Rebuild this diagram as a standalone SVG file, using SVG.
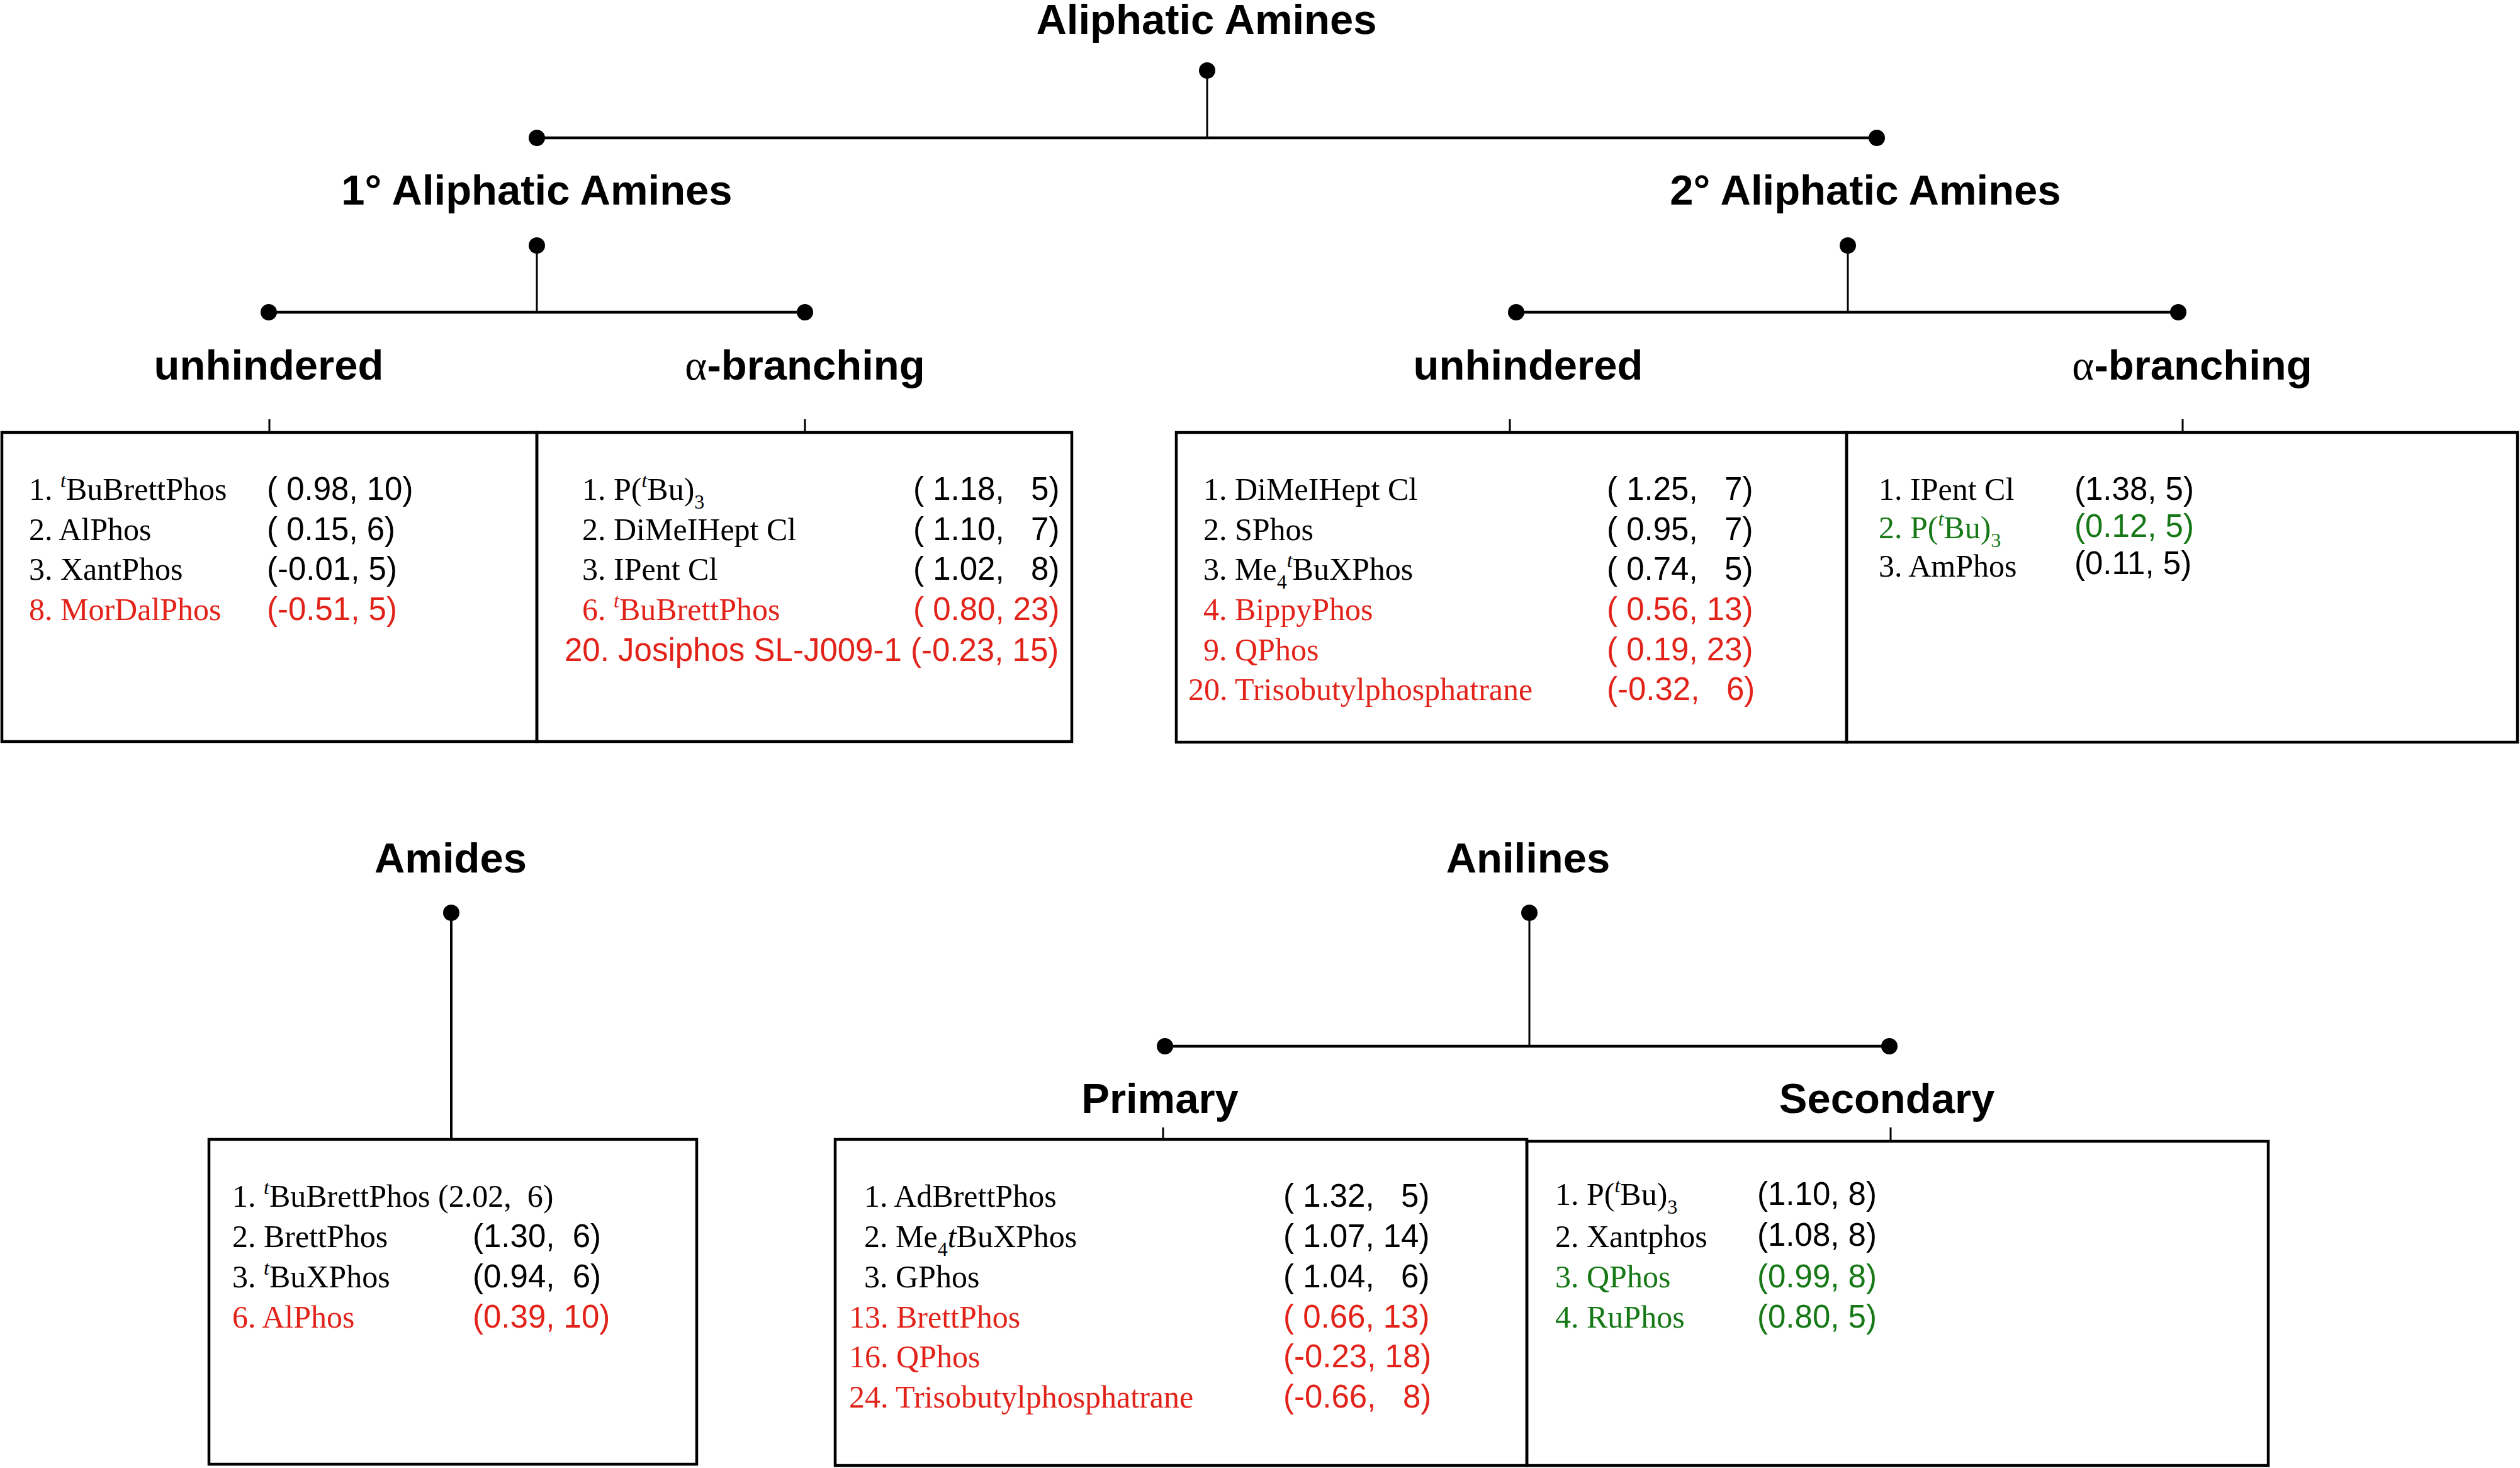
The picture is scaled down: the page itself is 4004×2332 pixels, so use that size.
<svg xmlns="http://www.w3.org/2000/svg" width="4004" height="2332" viewBox="0 0 4004 2332">
<style>
.h{font-family:"Liberation Sans",Arial,sans-serif;font-weight:bold;font-size:67px;text-anchor:middle;fill:#000}
.a{font-family:"Liberation Serif","Times New Roman",serif;font-weight:normal}
.s{font-family:"Liberation Serif","Times New Roman",serif;font-size:50px;fill:#000}
.n{font-family:"Liberation Sans",Arial,sans-serif;font-size:51px;fill:#000;white-space:pre}
.red{fill:#e2231a}
.grn{fill:#167816}
.box{fill:none;stroke:#000;stroke-width:4.5}
.hl{stroke:#000;stroke-width:4.5}
.vl{stroke:#000;stroke-width:3}
.dot{fill:#000}
</style>
<rect width="4004" height="2332" fill="#fff"/>

<g id="connectors">
  <line class="vl" x1="1918" y1="112" x2="1918" y2="219"/>
  <line class="hl" x1="853" y1="219" x2="2982" y2="219"/>
  <circle class="dot" cx="1918" cy="112" r="13"/>
  <circle class="dot" cx="853" cy="219" r="13"/>
  <circle class="dot" cx="2982" cy="219" r="13"/>

  <line class="vl" x1="853" y1="390" x2="853" y2="496"/>
  <line class="hl" x1="427" y1="496" x2="1279" y2="496"/>
  <circle class="dot" cx="853" cy="390" r="13"/>
  <circle class="dot" cx="427" cy="496" r="13"/>
  <circle class="dot" cx="1279" cy="496" r="13"/>

  <line class="vl" x1="2936" y1="390" x2="2936" y2="496"/>
  <line class="hl" x1="2409" y1="496" x2="3461" y2="496"/>
  <circle class="dot" cx="2936" cy="390" r="13"/>
  <circle class="dot" cx="2409" cy="496" r="13"/>
  <circle class="dot" cx="3461" cy="496" r="13"/>

  <line class="vl" x1="428" y1="666" x2="428" y2="687"/>
  <line class="vl" x1="1279" y1="666" x2="1279" y2="687"/>
  <line class="vl" x1="2399" y1="666" x2="2399" y2="687"/>
  <line class="vl" x1="3468" y1="666" x2="3468" y2="687"/>

  <line class="vl" x1="717" y1="1450" x2="717" y2="1810" style="stroke-width:4"/>
  <circle class="dot" cx="717" cy="1450" r="13"/>

  <line class="vl" x1="2430" y1="1450" x2="2430" y2="1662"/>
  <line class="hl" x1="1851" y1="1662" x2="3002" y2="1662"/>
  <circle class="dot" cx="2430" cy="1450" r="13"/>
  <circle class="dot" cx="1851" cy="1662" r="13"/>
  <circle class="dot" cx="3002" cy="1662" r="13"/>
  <line class="vl" x1="1848" y1="1791" x2="1848" y2="1810"/>
  <line class="vl" x1="3004" y1="1791" x2="3004" y2="1812"/>
</g>

<g id="h-aliphatic"><text class="h" x="1917" y="54">Aliphatic Amines</text></g>
<g id="h-primary-aliphatic"><text class="h" x="853" y="325">1° Aliphatic Amines</text></g>
<g id="h-secondary-aliphatic"><text class="h" x="2964" y="325">2° Aliphatic Amines</text></g>
<g id="h-1-unhindered"><text class="h" x="427" y="603">unhindered</text></g>
<g id="h-1-branching"><text class="h" x="1279" y="603"><tspan class="a">α</tspan>-branching</text></g>
<g id="h-2-unhindered"><text class="h" x="2428" y="603">unhindered</text></g>
<g id="h-2-branching"><text class="h" x="3483" y="603"><tspan class="a">α</tspan>-branching</text></g>
<g id="h-amides"><text class="h" x="716" y="1386">Amides</text></g>
<g id="h-anilines"><text class="h" x="2428" y="1386">Anilines</text></g>
<g id="h-an-primary"><text class="h" x="1843" y="1768">Primary</text></g>
<g id="h-an-secondary"><text class="h" x="2998" y="1768">Secondary</text></g>

<g id="box-1-unhindered">
  <rect class="box" x="3" y="687" width="850" height="491"/>
  <text class="s" x="46" y="794">1. <tspan font-style="italic" font-size="32" dy="-20">t</tspan><tspan dy="20">BuBrettPhos</tspan></text>
  <text class="n" x="424" y="794" xml:space="preserve">( 0.98, 10)</text>
  <text class="s" x="46" y="858">2. AlPhos</text>
  <text class="n" x="424" y="858" xml:space="preserve">( 0.15, 6)</text>
  <text class="s" x="46" y="921">3. XantPhos</text>
  <text class="n" x="424" y="921" xml:space="preserve">(-0.01, 5)</text>
  <text class="s red" x="46" y="985">8. MorDalPhos</text>
  <text class="n red" x="424" y="985" xml:space="preserve">(-0.51, 5)</text>
</g>

<g id="box-1-branching">
  <rect class="box" x="853" y="687" width="850" height="491"/>
  <text class="s" x="925" y="794">1. P(<tspan font-style="italic" font-size="32" dy="-20">t</tspan><tspan dy="20">Bu)</tspan><tspan font-size="32" dy="14">3</tspan></text>
  <text class="n" x="1451" y="794" xml:space="preserve">( 1.18,   5)</text>
  <text class="s" x="925" y="858">2. DiMeIHept Cl</text>
  <text class="n" x="1451" y="858" xml:space="preserve">( 1.10,   7)</text>
  <text class="s" x="925" y="921">3. IPent Cl</text>
  <text class="n" x="1451" y="921" xml:space="preserve">( 1.02,   8)</text>
  <text class="s red" x="925" y="985">6. <tspan font-style="italic" font-size="32" dy="-20">t</tspan><tspan dy="20">BuBrettPhos</tspan></text>
  <text class="n red" x="1451" y="985" xml:space="preserve">( 0.80, 23)</text>
  <text class="n red" x="897" y="1050" xml:space="preserve">20. Josiphos SL-J009-1 (-0.23, 15)</text>
</g>

<g id="box-2-unhindered">
  <rect class="box" x="1869" y="687" width="1065" height="492"/>
  <text class="s" x="1912" y="794">1. DiMeIHept Cl</text>
  <text class="n" x="2553" y="794" xml:space="preserve">( 1.25,   7)</text>
  <text class="s" x="1912" y="858">2. SPhos</text>
  <text class="n" x="2553" y="858" xml:space="preserve">( 0.95,   7)</text>
  <text class="s" x="1912" y="921">3. Me<tspan font-size="32" dy="14">4</tspan><tspan font-style="italic" font-size="32" dy="-34">t</tspan><tspan dy="20">BuXPhos</tspan></text>
  <text class="n" x="2553" y="921" xml:space="preserve">( 0.74,   5)</text>
  <text class="s red" x="1912" y="985">4. BippyPhos</text>
  <text class="n red" x="2553" y="985" xml:space="preserve">( 0.56, 13)</text>
  <text class="s red" x="1912" y="1049">9. QPhos</text>
  <text class="n red" x="2553" y="1049" xml:space="preserve">( 0.19, 23)</text>
  <text class="s red" x="1888" y="1112">20. Trisobutylphosphatrane</text>
  <text class="n red" x="2553" y="1112" xml:space="preserve">(-0.32,   6)</text>
</g>

<g id="box-2-branching">
  <rect class="box" x="2934" y="687" width="1066" height="492"/>
  <text class="s" x="2985" y="794">1. IPent Cl</text>
  <text class="n" x="3296" y="794" xml:space="preserve">(1.38, 5)</text>
  <text class="s grn" x="2985" y="855">2. P(<tspan font-style="italic" font-size="32" dy="-20">t</tspan><tspan dy="20">Bu)</tspan><tspan font-size="32" dy="14">3</tspan></text>
  <text class="n grn" x="3296" y="853" xml:space="preserve">(0.12, 5)</text>
  <text class="s" x="2985" y="916">3. AmPhos</text>
  <text class="n" x="3296" y="912" xml:space="preserve">(0.11, 5)</text>
</g>

<g id="box-amides">
  <rect class="box" x="332" y="1810" width="775" height="516"/>
  <text class="s" x="369" y="1917" xml:space="preserve">1. <tspan font-style="italic" font-size="32" dy="-20">t</tspan><tspan dy="20">BuBrettPhos (2.02,  6)</tspan></text>
  <text class="s" x="369" y="1981">2. BrettPhos</text>
  <text class="n" x="751" y="1981" xml:space="preserve">(1.30,  6)</text>
  <text class="s" x="369" y="2045">3. <tspan font-style="italic" font-size="32" dy="-20">t</tspan><tspan dy="20">BuXPhos</tspan></text>
  <text class="n" x="751" y="2045" xml:space="preserve">(0.94,  6)</text>
  <text class="s red" x="369" y="2109">6. AlPhos</text>
  <text class="n red" x="751" y="2109" xml:space="preserve">(0.39, 10)</text>
</g>

<g id="box-anilines-primary">
  <rect class="box" x="1327" y="1810" width="1099" height="518"/>
  <text class="s" x="1373" y="1917">1. AdBrettPhos</text>
  <text class="n" x="2039" y="1917" xml:space="preserve">( 1.32,   5)</text>
  <text class="s" x="1373" y="1981">2. Me<tspan font-size="32" dy="14">4</tspan><tspan font-style="italic" dy="-14">t</tspan>BuXPhos</text>
  <text class="n" x="2039" y="1981" xml:space="preserve">( 1.07, 14)</text>
  <text class="s" x="1373" y="2045">3. GPhos</text>
  <text class="n" x="2039" y="2045" xml:space="preserve">( 1.04,   6)</text>
  <text class="s red" x="1349" y="2109">13. BrettPhos</text>
  <text class="n red" x="2039" y="2109" xml:space="preserve">( 0.66, 13)</text>
  <text class="s red" x="1349" y="2172">16. QPhos</text>
  <text class="n red" x="2039" y="2172" xml:space="preserve">(-0.23, 18)</text>
  <text class="s red" x="1349" y="2236">24. Trisobutylphosphatrane</text>
  <text class="n red" x="2039" y="2236" xml:space="preserve">(-0.66,   8)</text>
</g>

<g id="box-anilines-secondary">
  <rect class="box" x="2426" y="1813" width="1178" height="515"/>
  <text class="s" x="2471" y="1914">1. P(<tspan font-style="italic" font-size="32" dy="-20">t</tspan><tspan dy="20">Bu)</tspan><tspan font-size="32" dy="14">3</tspan></text>
  <text class="n" x="2792" y="1914" xml:space="preserve">(1.10, 8)</text>
  <text class="s" x="2471" y="1981">2. Xantphos</text>
  <text class="n" x="2792" y="1979" xml:space="preserve">(1.08, 8)</text>
  <text class="s grn" x="2471" y="2045">3. QPhos</text>
  <text class="n grn" x="2792" y="2045" xml:space="preserve">(0.99, 8)</text>
  <text class="s grn" x="2471" y="2109">4. RuPhos</text>
  <text class="n grn" x="2792" y="2109" xml:space="preserve">(0.80, 5)</text>
</g>
</svg>
